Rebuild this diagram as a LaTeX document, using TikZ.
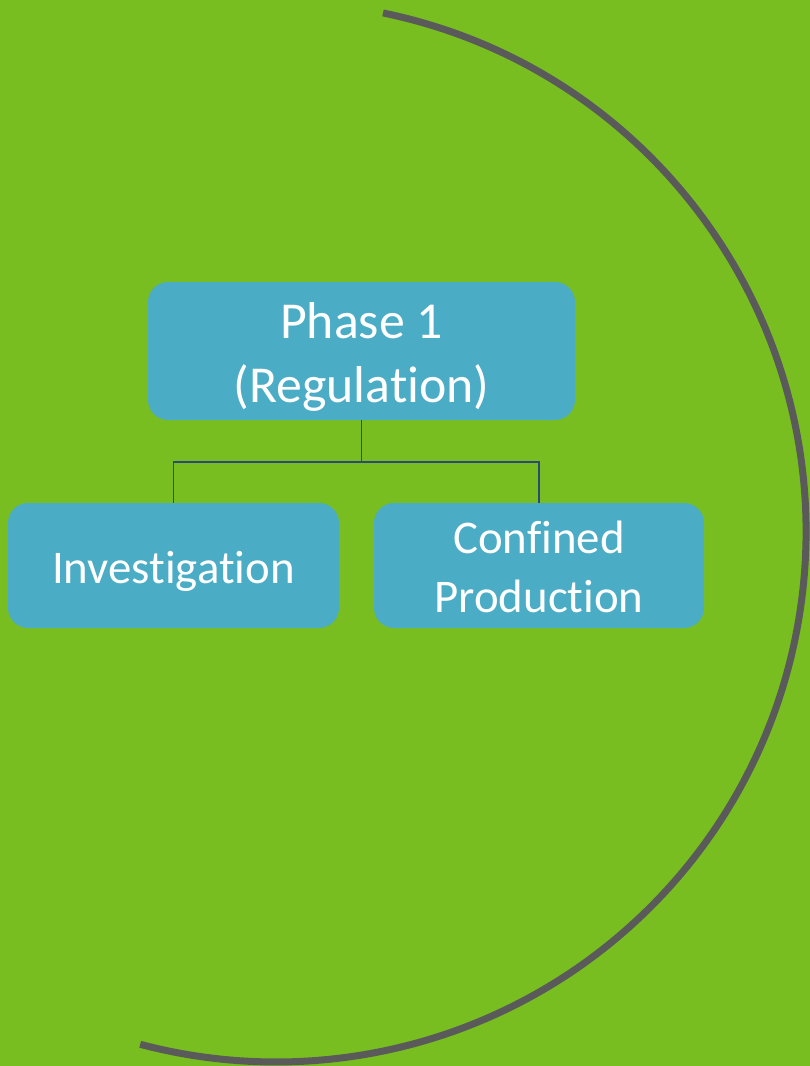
\documentclass[tikz,border=0pt]{standalone}
\usepackage{fontspec}
\setmainfont{Carlito}[Ligatures={NoCommon,TeX}]
\definecolor{bggreen}{HTML}{78BE20}
\definecolor{boxblue}{HTML}{4BACC6}
\definecolor{arcgrey}{HTML}{5A5A5A}
\definecolor{linkblue}{HTML}{2C4A78}
\begin{document}
\begin{tikzpicture}[x=1bp,y=1bp,
  box/.style={fill=boxblue, rounded corners=20bp, text=white, align=center, inner sep=0pt},
  link/.style={draw=linkblue, line width=1.8bp}]
\useasboundingbox (0,0) rectangle (810,-1066);
\fill[bggreen] (0,0) rectangle (810,-1066);
% arc
\draw[arcgrey, line width=7bp] ([shift={(276,-532)}]78.35:530) arc[start angle=78.35, end angle=-104.85, radius=530];
% boxes
\node[box, minimum width=427bp, minimum height=138bp, text height=110bp, text depth=8bp, font=\fontsize{52}{64}\selectfont] (top) at (361.5,-351) {Phase 1\\(Regulation)};
\node[box, minimum width=331bp, minimum height=125bp, text height=40bp, text depth=5bp, font=\fontsize{47}{59}\selectfont] (inv) at (173.5,-565.5) {Investigation};
\node[box, minimum width=330bp, minimum height=125bp, text height=100bp, text depth=7bp, font=\fontsize{47}{59}\selectfont] (conf) at (539,-565.5) {Confined\\Production};
% connectors
\coordinate (j) at (361.5,-462);
\draw[link] (top.south) -- (j);
\draw[link] (inv.north) |- (j) -| (conf.north);
\end{tikzpicture}
\end{document}
